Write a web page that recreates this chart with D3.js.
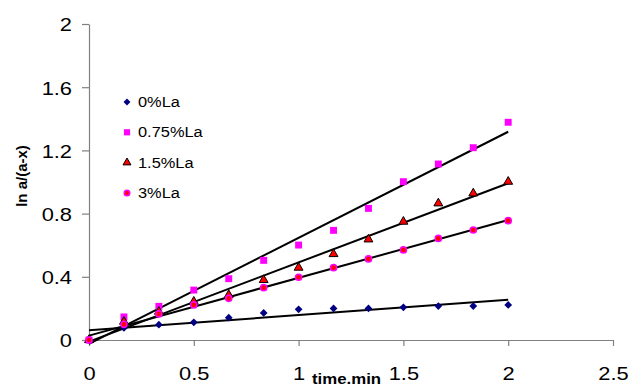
<!DOCTYPE html>
<html>
<head>
<meta charset="utf-8">
<script src="https://cdn.jsdelivr.net/npm/d3@7"></script>
<style>
body { margin: 0; background: #fff; }
svg { font-family: Arial, "Liberation Sans", sans-serif; }
</style>
</head>
<body>
<div id="chart"></div>
<script>
// time in minutes, one reading every 10 s
var times = [0, 1/6, 2/6, 0.5, 4/6, 5/6, 1, 7/6, 8/6, 1.5, 10/6, 11/6, 2];

var series_names = ["0%La", "0.75%La", "1.5%La", "3%La"];
var la_0 = [0, 0.076, 0.097, 0.112, 0.141, 0.171, 0.194, 0.200, 0.200, 0.207, 0.215, 0.215, 0.222];
var la_075 = [0, 0.146, 0.213, 0.316, 0.388, 0.504, 0.601, 0.694, 0.833, 1.002, 1.114, 1.217, 1.378];
var la_15 = [0, 0.116, 0.179, 0.243, 0.285, 0.380, 0.458, 0.544, 0.637, 0.749, 0.865, 0.928, 1.002];
var la_3 = [0, 0.099, 0.165, 0.222, 0.264, 0.331, 0.397, 0.458, 0.513, 0.570, 0.643, 0.696, 0.755];

var x_ticks = [0, 0.5, 1, 1.5, 2, 2.5];
var y_ticks = [0, 0.4, 0.8, 1.2, 1.6, 2];

var W = 630, H = 387;
var svg = d3.select("#chart").append("svg")
    .attr("width", W).attr("height", H);

var x = d3.scaleLinear().domain([0, 2.5]).range([89, 613]);
var y = d3.scaleLinear().domain([0, 2]).range([340, 24]);

// least squares fit, like an excel linear trendline
var fit = function(xs, ys){
    var mx = d3.mean(xs), my = d3.mean(ys);
    var sxy = 0, sxx = 0;
    for (var i = 0; i < xs.length; i++){
	sxy += (xs[i] - mx) * (ys[i] - my);
	sxx += (xs[i] - mx) * (xs[i] - mx);
    }
    var m = sxy / sxx;
    return {m: m, b: my - m * mx};
}

// the original picture is a bit wider than tall, so widen the text
var stretch = function(sel, k){
    sel.each(function(){
	var w = this.getComputedTextLength();
	d3.select(this)
	    .attr("textLength", w * k)
	    .attr("lengthAdjust", "spacingAndGlyphs");
    });
}

// excel style diamond (square turned 45 degrees)
var diamond = {
    draw: function(ctx, size){
	var r = Math.sqrt(size / 2);
	ctx.moveTo(0, -r);
	ctx.lineTo(r, 0);
	ctx.lineTo(0, r);
	ctx.lineTo(-r, 0);
	ctx.closePath();
    }
};

// axes
var x_axis = svg.append("g")
    .attr("transform", "translate(0," + y(0) + ")")
    .call(d3.axisBottom(x).tickValues(x_ticks).tickSize(6)
	  .tickSizeOuter(0).tickFormat(d3.format("")));
var y_axis = svg.append("g")
    .attr("transform", "translate(" + x(0) + ",0)")
    .call(d3.axisLeft(y).tickValues(y_ticks).tickSize(7)
	  .tickSizeOuter(0).tickFormat(d3.format("")));

[x_axis, y_axis].forEach(function(a){
    a.select(".domain").attr("stroke", "#808080").attr("stroke-width", 1.2);
    a.selectAll(".tick line").attr("stroke", "#808080").attr("stroke-width", 1.2);
    a.selectAll(".tick text").attr("fill", "#000").attr("font-size", 19)
	.attr("font-family", "Arial, 'Liberation Sans', sans-serif");
});
x_axis.selectAll(".tick text").attr("dy", null).attr("y", 40);
y_axis.selectAll(".tick text").attr("x", -17).attr("dy", "0.36em");
stretch(x_axis.selectAll(".tick text"), 1.15);
stretch(y_axis.selectAll(".tick text"), 1.15);

// axis titles
svg.append("text")
    .attr("transform", "translate(27,176) rotate(-90)")
    .attr("text-anchor", "middle")
    .attr("font-size", 15).attr("font-weight", "bold")
    .text("ln a/(a-x)");
var x_title = svg.append("text")
    .attr("x", 312).attr("y", 384)
    .attr("font-size", 14).attr("font-weight", "bold")
    .text("time.min");
stretch(x_title, 1.2);

var styles = [
    {shape: diamond, size: 30, fill: "#000080", stroke: "#000080", sw: 0},
    {shape: d3.symbolSquare, size: 48, fill: "#ff00ff", stroke: "#ff00ff", sw: 0},
    {shape: d3.symbolTriangle, size: 34, fill: "#ff0000", stroke: "#000", sw: 1},
    {shape: d3.symbolCircle, size: 30, fill: "#ff0000", stroke: "#ff00ff", sw: 1.5}
];
var all_series = [la_0, la_075, la_15, la_3];

// trendlines
all_series.forEach(function(vals){
    var f = fit(times, vals);
    svg.append("line")
	.attr("x1", x(0)).attr("y1", y(f.b))
	.attr("x2", x(2)).attr("y2", y(f.b + 2 * f.m))
	.attr("stroke", "#000").attr("stroke-width", 2);
});

// points
all_series.forEach(function(vals, k){
    var st = styles[k];
    svg.append("g").selectAll("path")
	.data(vals)
	.enter()
	.append("path")
	.attr("d", d3.symbol().type(st.shape).size(st.size))
	.attr("transform", function(d, i){
	    return "translate(" + x(times[i]) + "," + y(d) + ")";
	})
	.attr("fill", st.fill)
	.attr("stroke", st.stroke)
	.attr("stroke-width", st.sw);
});

// legend
var legend = svg.append("g");
series_names.forEach(function(name, k){
    var st = styles[k];
    var ly = 102 + k * 30.3;
    legend.append("path")
	.attr("d", d3.symbol().type(st.shape).size(st.size * 0.8))
	.attr("transform", "translate(127," + ly + ")")
	.attr("fill", st.fill)
	.attr("stroke", st.stroke)
	.attr("stroke-width", st.sw);
    var t = legend.append("text")
	.attr("x", 138).attr("y", ly + 5)
	.attr("font-size", 14)
	.text(name);
    stretch(t, 1.17);
});
</script>
</body>
</html>
